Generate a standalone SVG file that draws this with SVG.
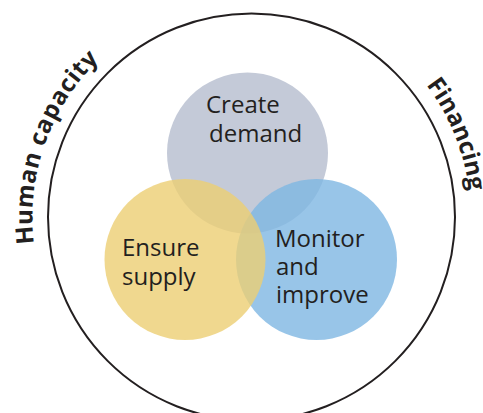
<svg xmlns="http://www.w3.org/2000/svg" width="483" height="413" viewBox="0 0 483 413">
  <style>
    .lbl { font-family: "Open Sans", "Liberation Sans", sans-serif; font-size: 24px; fill: #231f20; }
    .arc { font-family: "Open Sans", "Liberation Sans", sans-serif; font-size: 24px; font-weight: bold; fill: #231f20; }
  </style>
  <defs>
    <path id="textArc" d="M 251.5,436 A 219 219 0 1 1 251.5,-2 A 219 219 0 1 1 251.5,436"/>
  </defs>
  <rect width="483" height="413" fill="#ffffff"/>
  <g id="outer">
    <circle cx="251.5" cy="217" r="203.5" fill="none" stroke="#231f20" stroke-width="2"/>
    <text class="arc" letter-spacing="0.6"><textPath href="#textArc" startOffset="317">Human capacity</textPath></text>
    <text class="arc"><textPath href="#textArc" startOffset="890">Financing</textPath></text>
  </g>
  <g id="create-demand">
    <circle cx="247.5" cy="153" r="80.5" fill="#c4cad8"/>
    <text class="lbl"><tspan x="206" y="112.5">Create</tspan><tspan x="209" y="141.5">demand</tspan></text>
  </g>
  <g id="monitor-improve">
    <circle cx="316.5" cy="259.5" r="80.5" fill="#7eb6e2" fill-opacity="0.8"/>
    <text class="lbl"><tspan x="275" y="246.5">Monitor</tspan><tspan x="276" y="275">and</tspan><tspan x="276" y="302.5">improve</tspan></text>
  </g>
  <g id="ensure-supply">
    <circle cx="185" cy="259.5" r="80.5" fill="#ecce73" fill-opacity="0.8"/>
    <text class="lbl"><tspan x="122" y="256">Ensure</tspan><tspan x="122" y="284.5">supply</tspan></text>
  </g>
  <g id="connectors"></g>
</svg>
